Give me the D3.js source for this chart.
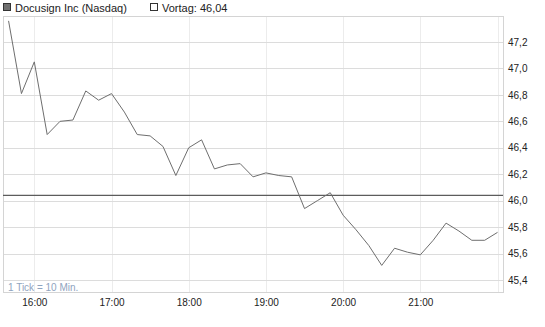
<!DOCTYPE html>
<html>
<head>
<meta charset="utf-8">
<script src="https://cdn.jsdelivr.net/npm/d3@7"></script>
<style>
  html, body { margin: 0; padding: 0; background: #fff; }
  svg { display: block; font-family: "Liberation Sans", Arial, sans-serif; }
</style>
</head>
<body>
<svg id="chart" width="545" height="327"></svg>
<script>
// ---- Data ----
const times = ["15:40","15:50","16:00","16:10","16:20","16:30","16:40","16:50","17:00","17:10",
               "17:20","17:30","17:40","17:50","18:00","18:10","18:20","18:30","18:40","18:50",
               "19:00","19:10","19:20","19:30","19:40","19:50","20:00","20:10","20:20","20:30",
               "20:40","20:50","21:00","21:10","21:20","21:30","21:40","21:50","22:00"];
const prices = [47.36,46.81,47.05,46.50,46.60,46.61,46.83,46.76,46.81,46.67,
                46.50,46.49,46.41,46.19,46.40,46.46,46.24,46.27,46.28,46.18,
                46.21,46.19,46.18,45.94,46.00,46.06,45.89,45.78,45.66,45.51,
                45.64,45.61,45.59,45.70,45.83,45.77,45.70,45.70,45.76];
const previousClose = 46.04;
const seriesName = "Docusign Inc (Nasdaq)";
const prevLabel = "Vortag: 46,04";
const tickNote = "1 Tick = 10 Min.";
const xTickLabels = ["16:00","17:00","18:00","19:00","20:00","21:00","22:00"];
const xTickShown = ["16:00","17:00","18:00","19:00","20:00","21:00"];
const yTickValues = [45.4,45.6,45.8,46.0,46.2,46.4,46.6,46.8,47.0,47.2];
const xDomain = ["15:35:40","22:04:15"];
const yDomain = [45.305, 47.397];

// ---- Layout ----
const pLeft = 3, pRight = 503, pTop = 16, pBottom = 292.5;
const parse = d3.timeParse("%H:%M");
const parseS = d3.timeParse("%H:%M:%S");

const x = d3.scaleTime().domain(xDomain.map(parseS)).range([pLeft, pRight]);
const y = d3.scaleLinear().domain(yDomain).range([pBottom, pTop]);

const svg = d3.select("#chart");

// vertical gridlines
const xGrid = svg.append("g").attr("transform", `translate(0,${pBottom})`)
  .call(d3.axisBottom(x).tickValues(xTickLabels.map(parse)).tickSize(-(pBottom - pTop)).tickFormat(""));
xGrid.select(".domain").remove();
xGrid.selectAll("line").attr("stroke", "#ececec").attr("shape-rendering", "crispEdges");

// horizontal gridlines
const yGrid = svg.append("g").attr("transform", `translate(${pLeft},0)`)
  .call(d3.axisLeft(y).tickValues(yTickValues).tickSize(-(pRight - pLeft)).tickFormat(""));
yGrid.select(".domain").remove();
yGrid.selectAll("line").attr("stroke", "#dcdcdc").attr("shape-rendering", "crispEdges");

// frame
svg.append("rect")
  .attr("x", pLeft).attr("y", pTop)
  .attr("width", pRight - pLeft).attr("height", pBottom - pTop)
  .attr("fill", "none").attr("stroke", "#d4d4d4").attr("shape-rendering", "crispEdges");

// previous close line
svg.append("line")
  .attr("x1", pLeft).attr("x2", pRight)
  .attr("y1", y(previousClose)).attr("y2", y(previousClose))
  .attr("stroke", "#5c5c5c").attr("stroke-width", 1.3);

// price line
const pts = times.map((t, i) => ({ t: parse(t), v: prices[i] }));
svg.append("path").datum(pts)
  .attr("fill", "none").attr("stroke", "#6e6e6e").attr("stroke-width", 1)
  .attr("d", d3.line().x(d => x(d.t)).y(d => y(d.v)));

// y axis labels
const yAxis = svg.append("g").attr("transform", `translate(${pRight},0)`)
  .call(d3.axisRight(y).tickValues(yTickValues).tickSize(0).tickPadding(5)
    .tickFormat(d => d.toFixed(1).replace(".", ",")));
yAxis.select(".domain").remove();
yAxis.selectAll("text").attr("font-size", 10).attr("fill", "#222")
  .attr("font-family", "Liberation Sans, Arial, sans-serif");

// x axis labels
const xAxis = svg.append("g").attr("transform", `translate(0,${pBottom})`)
  .call(d3.axisBottom(x).tickValues(xTickShown.map(parse)).tickSize(0).tickPadding(6)
    .tickFormat(d3.timeFormat("%H:%M")));
xAxis.select(".domain").remove();
xAxis.selectAll("text").attr("font-size", 10).attr("fill", "#222")
  .attr("font-family", "Liberation Sans, Arial, sans-serif");

// tick note
svg.append("text").attr("x", 8).attr("y", 291)
  .attr("font-size", 10).attr("fill", "#8fa4c0").text(tickNote);

// legend
svg.append("rect").attr("x", 3.5).attr("y", 3.5).attr("width", 7).attr("height", 7)
  .attr("fill", "#707070").attr("stroke", "#333");
svg.append("text").attr("x", 15).attr("y", 11.5).attr("font-size", 11).attr("fill", "#222").text(seriesName);
svg.append("rect").attr("x", 150.5).attr("y", 3.5).attr("width", 7).attr("height", 7)
  .attr("fill", "#fff").attr("stroke", "#333");
svg.append("text").attr("x", 162).attr("y", 11.5).attr("font-size", 11).attr("fill", "#222").text(prevLabel);
</script>
</body>
</html>
